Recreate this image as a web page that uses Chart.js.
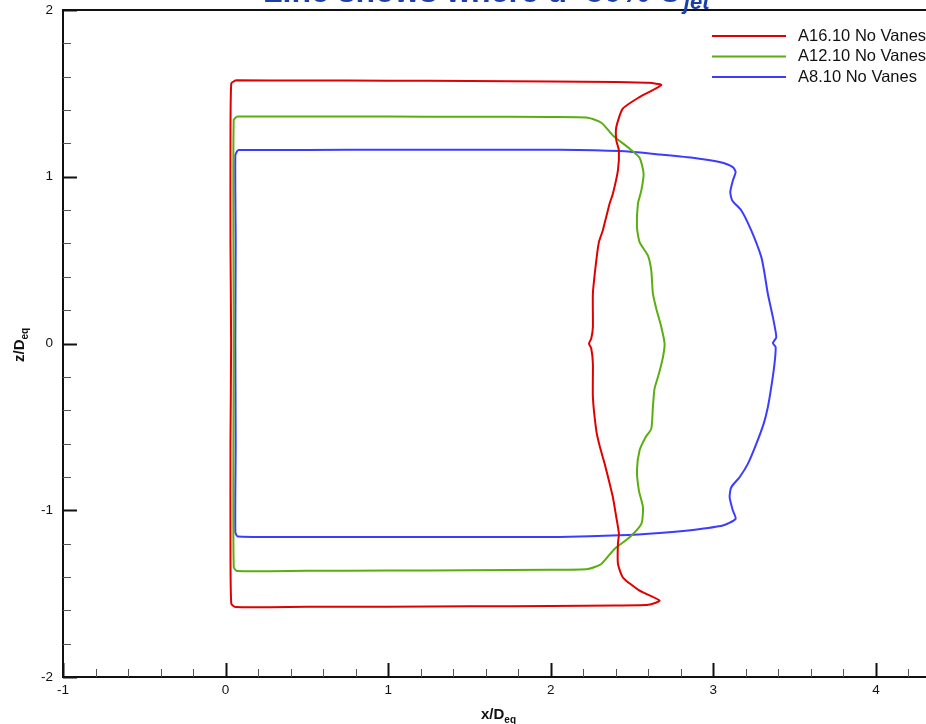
<!DOCTYPE html>
<html>
<head>
<meta charset="utf-8">
<script src="https://cdn.jsdelivr.net/npm/chart.js@4"></script>
<style>
  html, body { margin: 0; padding: 0; background: #fff; overflow: hidden; }
  #wrap { position: relative; width: 960px; height: 724px; }
</style>
</head>
<body>
<div id="wrap"><canvas id="myChart"></canvas></div>
<script>
const seriesLabels = ['A16.10 No Vanes', 'A12.10 No Vanes', 'A8.10 No Vanes'];
const seriesColors = ['#e00000', '#5aae10', '#3c3cff'];

// A16.10 (red) contour, x/Deq and z/Deq
const redX = [0.06, 0.5, 1.0, 1.5, 2.0, 2.4, 2.6, 2.68,
  2.546, 2.443, 2.403, 2.403, 2.419, 2.413, 2.382, 2.362, 2.320, 2.296, 2.280, 2.259, 2.259, 2.249, 2.235,
  2.249, 2.259, 2.259, 2.280, 2.300, 2.331, 2.362, 2.382, 2.403, 2.419, 2.413, 2.413, 2.443, 2.546, 2.669,
  2.6, 2.4, 2.0, 1.5, 1.0, 0.5, 0.06,
  0.035, 0.03, 0.03, 0.034, 0.03, 0.03, 0.035, 0.06];
const redY = [1.578, 1.577, 1.576, 1.574, 1.571, 1.568, 1.563, 1.550,
  1.478, 1.408, 1.298, 1.218, 1.158, 1.038, 0.898, 0.840, 0.678, 0.608, 0.498, 0.300, 0.098, 0.030, 0.0,
  -0.030, -0.120, -0.322, -0.522, -0.612, -0.720, -0.840, -0.922, -1.042, -1.140, -1.200, -1.320, -1.402, -1.482, -1.542,
  -1.567, -1.571, -1.574, -1.576, -1.578, -1.579, -1.580,
  -1.56, -1.2, -0.6, 0.0, 0.6, 1.2, 1.56, 1.578];

// A12.10 (green) contour
const greenX = [0.07, 0.5, 1.0, 1.5, 2.0, 2.228, 2.311, 2.382, 2.485, 2.546, 2.571, 2.557, 2.536, 2.530, 2.546,
  2.597, 2.618, 2.628, 2.649, 2.680, 2.700, 2.690, 2.665, 2.638, 2.628, 2.618, 2.583, 2.546, 2.530, 2.542,
  2.567, 2.557, 2.485, 2.392, 2.311, 2.228, 2.0, 1.5, 1.0, 0.5, 0.07,
  0.05, 0.048, 0.05, 0.048, 0.05, 0.07];
const greenY = [1.362, 1.362, 1.361, 1.360, 1.358, 1.354, 1.324, 1.248, 1.168, 1.114, 1.018, 0.918, 0.838, 0.698, 0.608,
  0.528, 0.438, 0.300, 0.208, 0.098, 0.0, -0.082, -0.182, -0.272, -0.382, -0.512, -0.562, -0.642, -0.762, -0.882,
  -0.982, -1.082, -1.162, -1.232, -1.322, -1.352, -1.357, -1.360, -1.362, -1.363, -1.364,
  -1.34, -0.6, 0.0, 0.6, 1.34, 1.362];

// A8.10 (blue) contour
const blueX = [0.075, 0.5, 1.0, 1.5, 2.054, 2.423, 2.669, 2.874, 3.038, 3.120, 3.137, 3.120, 3.104, 3.116, 3.172,
  3.233, 3.295, 3.315, 3.335, 3.366, 3.387, 3.366, 3.383, 3.376, 3.356, 3.335, 3.309, 3.264, 3.212, 3.161,
  3.110, 3.100, 3.120, 3.137, 3.058, 2.874, 2.669, 2.423, 2.054, 1.5, 1.0, 0.5, 0.075,
  0.06, 0.062, 0.06, 0.062, 0.06, 0.075];
const blueY = [1.160, 1.161, 1.162, 1.162, 1.162, 1.154, 1.134, 1.114, 1.088, 1.058, 1.028, 0.978, 0.908, 0.858, 0.798,
  0.678, 0.518, 0.418, 0.298, 0.158, 0.038, 0.002, -0.022, -0.122, -0.262, -0.382, -0.482, -0.602, -0.722, -0.802,
  -0.862, -0.922, -1.002, -1.052, -1.092, -1.118, -1.136, -1.150, -1.160, -1.161, -1.161, -1.160, -1.158,
  -1.13, -0.6, 0.0, 0.6, 1.13, 1.160];

const xTickValues = [-1, 0, 1, 2, 3, 4];
const yTickValues = [-2, -1, 0, 1, 2];

function toPoints(xs, ys) {
    return xs.map((x, i) => ({ x: x, y: ys[i] }));
}

const FONT = '"Liberation Sans", Arial, Helvetica, sans-serif';

// frame, inward ticks, title, axis titles and legend
const decorPlugin = {
    id: 'decor',
    afterDraw(chart) {
        const ctx = chart.ctx;
        const area = chart.chartArea;
        const xs = chart.scales.x;
        const ys = chart.scales.y;
        ctx.save();

        // frame
        ctx.strokeStyle = '#111';
        ctx.lineWidth = 2;
        ctx.beginPath();
        ctx.moveTo(area.right + 5, area.top);
        ctx.lineTo(area.left, area.top);
        ctx.lineTo(area.left, area.bottom);
        ctx.lineTo(area.right + 5, area.bottom);
        ctx.stroke();

        // x ticks (every 0.2, inward)
        for (let i = 0; i <= 27; i++) {
            const v = -1 + i * 0.2;
            const major = i % 5 === 0;
            const px = Math.round(xs.getPixelForValue(v)) + 0.5;
            ctx.lineWidth = major ? 2 : 1;
            ctx.strokeStyle = major ? '#111' : '#555';
            ctx.beginPath();
            ctx.moveTo(px, area.bottom);
            ctx.lineTo(px, area.bottom - (major ? 14 : 8));
            ctx.stroke();
        }
        // y ticks
        for (let i = 0; i <= 20; i++) {
            const v = -2 + i * 0.2;
            const major = i % 5 === 0;
            const py = Math.round(ys.getPixelForValue(v)) + 0.5;
            ctx.lineWidth = major ? 2 : 1;
            ctx.strokeStyle = major ? '#111' : '#555';
            ctx.beginPath();
            ctx.moveTo(area.left, py);
            ctx.lineTo(area.left + (major ? 14 : 8), py);
            ctx.stroke();
        }

        // title (mostly cut off at the top)
        ctx.fillStyle = '#1b3fa8';
        ctx.textBaseline = 'alphabetic';
        ctx.textAlign = 'left';
        ctx.font = 'bold 32px ' + FONT;
        const t = 'Line shows where u=50% U';
        ctx.fillText(t, 263, 2);
        const tw = ctx.measureText(t).width;
        ctx.font = 'italic bold 22px ' + FONT;
        ctx.fillText('jet', 263 + tw + 2, 9);

        // x axis title
        ctx.fillStyle = '#111';
        ctx.font = 'bold 15px ' + FONT;
        ctx.fillText('x/D', 481, 719);
        let w = ctx.measureText('x/D').width;
        ctx.font = 'bold 10px ' + FONT;
        ctx.fillText('eq', 481 + w, 723);

        // y axis title (rotated)
        ctx.save();
        ctx.translate(24, 362);
        ctx.rotate(-Math.PI / 2);
        ctx.font = 'bold 15px ' + FONT;
        ctx.fillText('z/D', 0, 0);
        w = ctx.measureText('z/D').width;
        ctx.font = 'bold 10px ' + FONT;
        ctx.fillText('eq', w, 4);
        ctx.restore();

        // legend
        ctx.font = '16.5px ' + FONT;
        ctx.textBaseline = 'middle';
        chart.data.datasets.forEach((ds, i) => {
            const ly = 36 + i * 20.5;
            ctx.strokeStyle = ds.borderColor;
            ctx.lineWidth = 2;
            ctx.beginPath();
            ctx.moveTo(712, ly);
            ctx.lineTo(786, ly);
            ctx.stroke();
            ctx.fillStyle = '#111';
            ctx.fillText(ds.label, 798, ly);
        });

        ctx.restore();
    }
};

const ctx = document.getElementById('myChart').getContext('2d');

window.chart = new Chart(ctx, {
    type: 'scatter',
    data: {
        datasets: [
            { label: seriesLabels[0], data: toPoints(redX, redY), borderColor: seriesColors[0] },
            { label: seriesLabels[1], data: toPoints(greenX, greenY), borderColor: seriesColors[1] },
            { label: seriesLabels[2], data: toPoints(blueX, blueY), borderColor: seriesColors[2] }
        ].map(ds => Object.assign(ds, {
            showLine: true,
            borderWidth: 2,
            pointRadius: 0,
            pointHoverRadius: 0,
            tension: 0.2,
            fill: false
        }))
    },
    options: {
        responsive: true,
        maintainAspectRatio: false,
        animation: false,
        layout: { padding: { top: 10, right: 19, bottom: 0, left: 0 } },
        scales: {
            x: {
                type: 'linear',
                min: -1,
                max: 4.4,
                grid: { display: false, drawTicks: false },
                border: { display: false },
                afterFit: (s) => { s.height = 47; s.paddingLeft = 0; s.paddingRight = 0; },
                afterBuildTicks: (s) => { s.ticks = xTickValues.map(v => ({ value: v })); },
                ticks: {
                    padding: 5,
                    color: '#111',
                    font: { family: FONT, size: 13.5 }
                }
            },
            y: {
                type: 'linear',
                min: -2,
                max: 2,
                grid: { display: false, drawTicks: false },
                border: { display: false },
                afterFit: (s) => { s.width = 63; s.paddingTop = 0; s.paddingBottom = 0; },
                afterBuildTicks: (s) => { s.ticks = yTickValues.map(v => ({ value: v })); },
                ticks: {
                    padding: 10,
                    color: '#111',
                    font: { family: FONT, size: 13.5 }
                }
            }
        },
        plugins: {
            legend: { display: false },
            title: { display: false },
            tooltip: { enabled: false }
        }
    },
    plugins: [decorPlugin]
});
</script>
</body>
</html>
